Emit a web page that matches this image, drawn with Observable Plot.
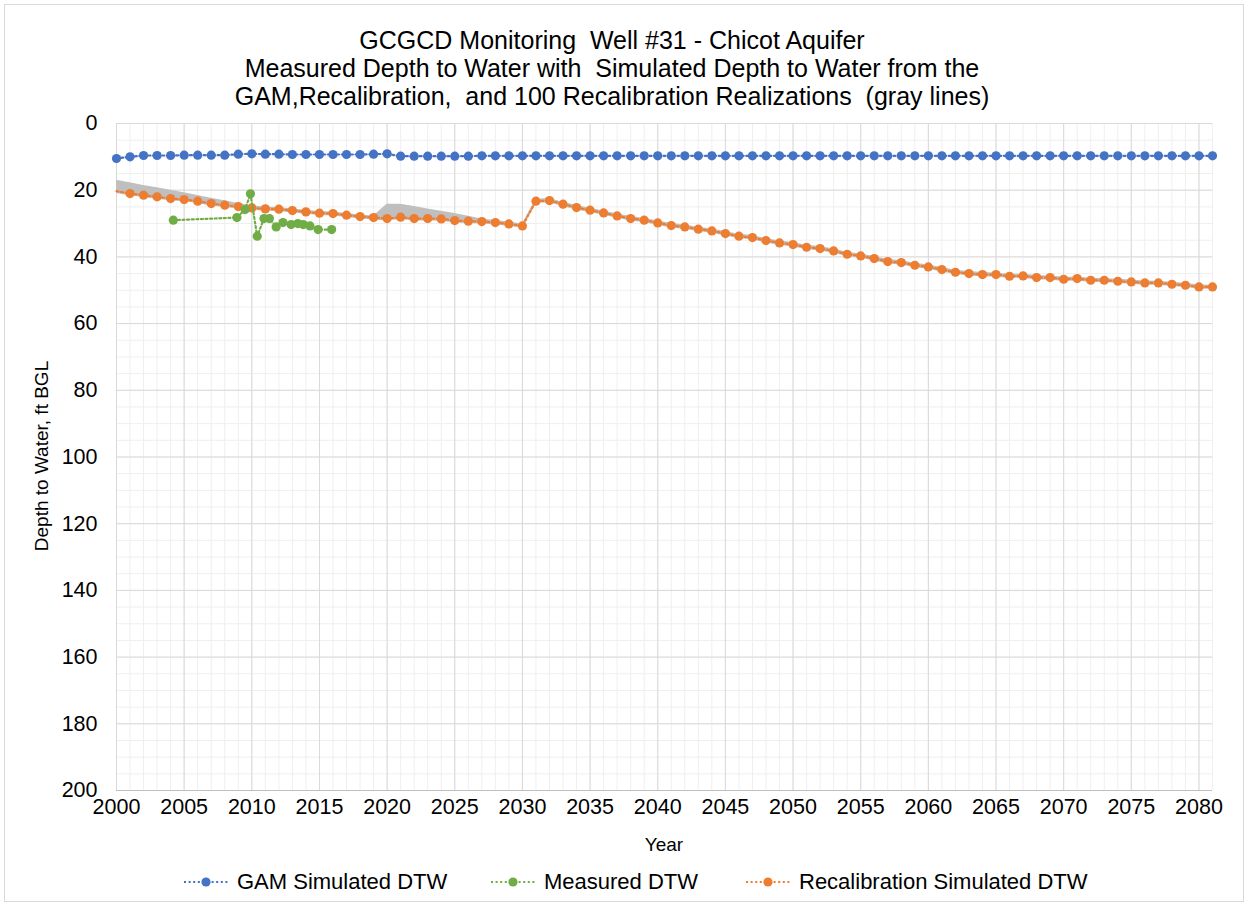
<!DOCTYPE html>
<html><head><meta charset="utf-8">
<script src="https://cdn.jsdelivr.net/npm/d3@7"></script>
<script src="https://cdn.jsdelivr.net/npm/@observablehq/plot@0.6"></script>
<style>
body{margin:0;background:#fff;font-family:"Liberation Sans",Arial,sans-serif;}
#wrap{position:relative;width:1249px;height:907px;overflow:hidden;background:#fff;}
#border{position:absolute;left:4px;top:4px;width:1240px;height:898px;border:1px solid #d9d9d9;box-sizing:border-box;}
#title{position:absolute;left:0;width:1224px;top:26px;text-align:center;font-size:25px;line-height:28px;color:#000;}
#chart{position:absolute;left:0;top:110px;}
.lbl{position:absolute;font-size:19px;color:#000;white-space:nowrap;line-height:22px;}
.leg{position:absolute;top:871px;height:22px;display:flex;align-items:center;font-size:22px;white-space:nowrap;}
.leg svg{margin-right:8px;}
</style></head>
<body>
<div id="wrap">
<div id="border"></div>
<div id="title">GCGCD Monitoring&nbsp; Well #31 - Chicot Aquifer<br>Measured Depth to Water with&nbsp; Simulated Depth to Water from the<br>GAM,Recalibration,&nbsp; and 100 Recalibration Realizations&nbsp; (gray lines)</div>
<div id="chart"></div>
<div class="lbl" style="left:664px;top:834px;transform:translateX(-50%);">Year</div>
<div class="lbl" style="left:42px;top:456px;transform:translate(-50%,-50%) rotate(-90deg);">Depth to Water, ft BGL</div>
<div id="legend"></div>
</div>
<script>
// ---------- DATA ----------
const years = d3.range(2000, 2082);
const gamDTW = [10.5,10.0,9.6,9.6,9.6,9.5,9.5,9.5,9.5,9.2,9.1,9.2,9.2,9.3,9.3,9.3,9.3,9.3,9.3,9.2,
  9.1,9.8,9.8,9.8,9.8,9.8,9.8,9.7,9.7,9.7,9.7,9.7,9.7,9.7,9.7,9.7,9.7,9.7,9.7,9.7,
  9.7,9.7,9.7,9.7,9.7,9.7,9.7,9.7,9.7,9.7,9.7,9.7,9.7,9.7,9.7,9.7,9.7,9.7,9.7,9.7,
  9.7,9.7,9.7,9.7,9.7,9.7,9.7,9.7,9.7,9.7,9.7,9.7,9.7,9.7,9.7,9.7,9.7,9.7,9.7,9.7,9.7,9.7];
const recalDTW = [20.3,21.0,21.5,22.0,22.5,22.8,23.3,24.0,24.5,24.9,25.3,25.6,25.7,26.1,26.5,26.9,27.0,27.5,27.9,28.2,
  28.5,28.1,28.5,28.5,28.6,29.1,29.3,29.4,29.7,30.1,30.7,23.3,23.1,24.2,25.2,26.0,26.8,27.7,28.5,29.0,
  29.8,30.6,31.0,31.7,32.2,33.0,33.8,34.2,35.1,35.8,36.3,37.1,37.5,38.2,39.2,39.7,40.5,41.4,41.7,42.5,
  43.0,43.8,44.6,45.0,45.3,45.3,45.8,45.7,46.2,46.2,46.7,46.5,47.0,47.0,47.3,47.5,47.8,47.8,48.2,48.5,49.0,49.0];
// realization envelope (shallowest / deepest of the 100 gray lines)
const realizMin = [17.0,17.8,18.6,19.3,20.0,20.8,21.6,22.4,23.2,24.0,24.7,25.0,25.2,25.6,26.0,26.4,26.5,27.0,27.4,27.7,
  24.2,24.2,24.9,25.6,26.3,27.0,27.8,28.6,29.1,29.5,30.1,22.7,22.5,23.6,24.6,25.4,26.2,27.1,27.9,28.4,
  29.2,30.0,30.4,31.1,31.6,32.4,33.2,33.6,34.5,35.2,35.7,36.5,36.9,37.6,38.6,39.1,39.9,40.8,41.1,41.9,
  42.4,43.2,44.0,44.4,44.7,44.8,45.2,45.2,45.6,45.7,46.1,46.0,46.4,46.5,46.7,46.9,47.2,47.3,47.6,47.9,48.4,48.5];
const realizMax = [21.0,21.7,22.2,22.7,23.2,23.5,24.0,24.7,25.2,25.6,26.0,26.3,26.4,26.8,27.2,27.6,27.7,28.2,28.6,28.9,
  29.2,28.8,29.2,29.2,29.3,29.8,30.0,30.1,30.4,30.8,31.4,24.0,23.8,24.9,25.9,26.7,27.5,28.4,29.2,29.7,
  30.5,31.3,31.7,32.4,32.9,33.7,34.5,34.9,35.8,36.5,37.0,37.8,38.2,38.9,39.9,40.4,41.2,42.1,42.4,43.2,
  43.7,44.5,45.3,45.7,46.0,46.0,46.5,46.4,46.9,46.9,47.4,47.2,47.7,47.7,48.0,48.2,48.5,48.5,48.9,49.2,49.7,49.7];
const measuredYear = [2004.2,2008.9,2009.5,2009.9,2010.4,2010.9,2011.3,2011.8,2012.3,2012.9,2013.4,2013.8,2014.3,2014.9,2015.9];
const measuredDTW  = [29.0,28.2,25.8,21.1,33.8,28.5,28.5,31.0,29.7,30.3,30.0,30.3,30.7,31.8,31.8];
const xTicks = [2000,2005,2010,2015,2020,2025,2030,2035,2040,2045,2050,2055,2060,2065,2070,2075,2080];
const yTicks = [0,20,40,60,80,100,120,140,160,180,200];
const seriesNames = ["GAM Simulated DTW","Measured DTW","Recalibration Simulated DTW"];
const seriesColors = ["#4472C4","#70AD47","#ED7D31"];

// ---------- TABLES ----------
const gam = years.map((yr,i)=>({year:yr, dtw:gamDTW[i]}));
const recal = years.map((yr,i)=>({year:yr, dtw:recalDTW[i]}));
const band = years.map((yr,i)=>({year:yr, lo:realizMin[i], hi:realizMax[i]}));
const meas = measuredYear.map((yr,i)=>({year:yr, dtw:measuredDTW[i]}));
const minorX = d3.range(2000, 2082);
const minorY = d3.range(0, 201, 5);

const dash = "2 2.6";
const lw = 2.2;
const r = 4.6;

const chart = Plot.plot({
  width: 1249, height: 760,
  marginTop: 13, marginBottom: 80, marginLeft: 116, marginRight: 37,
  x: {domain: [2000, 2081]},
  y: {domain: [0, 200], reverse: true},
  style: {fontFamily: '"Liberation Sans", Arial, sans-serif', fontSize: "21.5px", color: "#000", background: "transparent", overflow: "visible"},
  marks: [
    Plot.ruleX(minorX, {stroke: "#efefef", strokeWidth: 1}),
    Plot.ruleY(minorY, {stroke: "#efefef", strokeWidth: 1}),
    Plot.ruleX(xTicks, {stroke: "#d9d9d9", strokeWidth: 1}),
    Plot.ruleY(yTicks, {stroke: "#d9d9d9", strokeWidth: 1}),
    Plot.ruleY([200], {stroke: "#bfbfbf", strokeWidth: 1}),
    Plot.areaY(band, {x: "year", y1: "lo", y2: "hi", fill: "#bfbfbf"}),
    Plot.line(gam, {x: "year", y: "dtw", stroke: seriesColors[0], strokeWidth: lw, strokeDasharray: dash}),
    Plot.dot(gam, {x: "year", y: "dtw", r, fill: seriesColors[0], stroke: "none"}),
    Plot.line(recal, {x: "year", y: "dtw", stroke: seriesColors[2], strokeWidth: lw, strokeDasharray: dash}),
    Plot.dot(recal.filter(d => d.year > 2000), {x: "year", y: "dtw", r, fill: seriesColors[2], stroke: "none"}),
    Plot.line(meas, {x: "year", y: "dtw", stroke: seriesColors[1], strokeWidth: lw, strokeDasharray: dash}),
    Plot.dot(meas, {x: "year", y: "dtw", r, fill: seriesColors[1], stroke: "none"}),
    Plot.axisX({ticks: xTicks, tickSize: 0, tickPadding: 8, tickFormat: d => String(d), label: null}),
    Plot.axisY({ticks: yTicks, tickSize: 0, tickPadding: 19, tickFormat: d => String(d), label: null})
  ]
});
document.getElementById("chart").appendChild(chart);

// ---------- LEGEND ----------
const legX = [183, 490, 745];
const legend = document.getElementById("legend");
seriesNames.forEach((name, i) => {
  const item = document.createElement("div");
  item.className = "leg";
  item.style.left = legX[i] + "px";
  item.innerHTML = `<svg width="46" height="20"><line x1="1" y1="10" x2="45" y2="10" stroke="${seriesColors[i]}" stroke-width="${lw}" stroke-dasharray="${dash}"/><circle cx="23" cy="10" r="${r}" fill="${seriesColors[i]}"/></svg><span>${name}</span>`;
  legend.appendChild(item);
});
</script>
</body></html>
